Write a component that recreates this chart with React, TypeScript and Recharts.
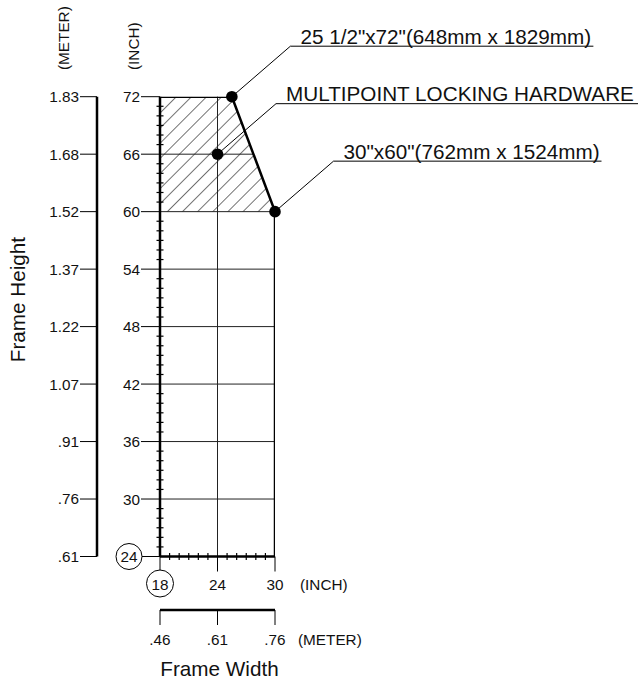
import React from "react";
import {
  ComposedChart,
  XAxis,
  YAxis,
  Line,
  Area,
  ReferenceLine,
  ReferenceDot,
} from "recharts";

const FONT = '"Liberation Sans", Arial, Helvetica, sans-serif';

// frame width (inch) and its metric twin
const widthTicks = [18, 24, 30];
const widthMeters = [".46", ".61", ".76"];

// frame height (inch) and its metric twin
const heightTicks = [24, 30, 36, 42, 48, 54, 60, 66, 72];
const heightMeters = [".61", ".76", ".91", "1.07", "1.22", "1.37", "1.52", "1.68", "1.83"];

// outer outline of the usable range
const outlineW = [18, 25.5, 30, 30];
const outlineH = [72, 72, 60, 24];

// hatched zone (needs multipoint hardware)
const hatchW = [18, 25.5, 30];
const hatchTop = [72, 72, 60];
const hatchBase = 60;

// grid
const gridH = [30, 36, 42, 48, 54, 60];
const gridPartialH = [66];
const gridV = [24];

// called-out points
const markW = [25.5, 24, 30];
const markH = [72, 66, 60];
const markText = [
  '25 1/2"x72"(648mm x 1829mm)',
  "MULTIPOINT LOCKING HARDWARE",
  '30"x60"(762mm x 1524mm)',
];

// layout
const W = 641;
const H = 679;
const TICK_FS = 15.3;
const TITLE_FS = 20.7;
const Y_TICK = 19;
const Y_GAP = 1;
const X_TICK = 15;
const X_GAP = 8;
const MINOR = 3.5;
const DOT_R = 5.8;
const LEADER_DX = 58.5;
const LEADER_DY = -50.5;
const underlineLen = [303, 362, 268];
const HATCH_GAP = 10.7;

const range = (a: number, b: number) => Array.from({ length: b - a + 1 }, (_, i) => a + i);

const outline = outlineW.map((w, i) => ({ w, h: outlineH[i] }));
const hatch = hatchW.map((w, i) => ({ w, top: hatchTop[i] }));

// x where the slanted outline edge crosses height h
const edgeAt = (h: number) => {
  const [w1, w2] = [outlineW[1], outlineW[2]];
  const [h1, h2] = [outlineH[1], outlineH[2]];
  return w1 + ((h1 - h) / (h1 - h2)) * (w2 - w1);
};

const InchYTick = (p: any) => {
  const { x, y, payload } = p;
  const ax = x + Y_TICK + Y_GAP;
  const v = payload.value;
  if (!heightTicks.includes(v)) {
    return <line x1={ax - MINOR} x2={ax + MINOR} y1={y} y2={y} stroke="#000" strokeWidth={1.2} />;
  }
  const circled = v === heightTicks[0];
  const tx = circled ? ax - 31 : ax - Y_TICK - 1;
  return (
    <g>
      <line x1={ax - Y_TICK} x2={ax} y1={y} y2={y} stroke="#000" strokeWidth={1} />
      {circled && <circle cx={tx} cy={y} r={13} fill="#fff" stroke="#000" strokeWidth={1} />}
      <text x={tx} y={y} dy="0.36em" textAnchor={circled ? "middle" : "end"} fontSize={TICK_FS} fill="#111">
        {v}
      </text>
    </g>
  );
};

const InchXTick = (p: any) => {
  const { x, y, payload } = p;
  const ay = y - X_TICK - X_GAP;
  const v = payload.value;
  if (!widthTicks.includes(v)) {
    return <line x1={x} x2={x} y1={ay - MINOR} y2={ay + MINOR} stroke="#000" strokeWidth={1.2} />;
  }
  const circled = v === widthTicks[0];
  const ty = ay + 27.5;
  return (
    <g>
      <line x1={x} x2={x} y1={ay} y2={ay + X_TICK} stroke="#000" strokeWidth={1} />
      {circled && <circle cx={x} cy={ty - 0.5} r={13.5} fill="#fff" stroke="#000" strokeWidth={1} />}
      <text x={x} y={ty} dy="0.36em" textAnchor="middle" fontSize={TICK_FS} fill="#111">
        {v}
      </text>
    </g>
  );
};

const vertText = (x: number, y: number, s: string, fs: number, anchor: string) => (
  <text
    x={x}
    y={y}
    transform={`rotate(-90, ${x}, ${y})`}
    textAnchor={anchor}
    fontSize={fs}
    fill="#111"
  >
    {s}
  </text>
);

const InchYLabel = (p: any) => {
  const { x, y, width } = p.viewBox;
  return vertText(x + width - 21, y - 26.7, "(INCH)", TICK_FS, "start");
};

const MeterYLabel = (p: any) => {
  const { x, y, width, height } = p.viewBox;
  return (
    <g>
      {vertText(x + width - 28.5, y - 26.7, "(METER)", TICK_FS, "start")}
      {vertText(x + 25, y + height / 2 - 27, "Frame Height", TITLE_FS, "middle")}
    </g>
  );
};

const InchXLabel = (p: any) => {
  const { x, y, width } = p.viewBox;
  return (
    <text x={x + width + 25} y={y + 33.5} fontSize={TICK_FS} fill="#111">
      (INCH)
    </text>
  );
};

const MeterXLabel = (p: any) => {
  const { x, y, width } = p.viewBox;
  return (
    <g>
      <text x={x + width + 23} y={y + 35} fontSize={TICK_FS} fill="#111">
        (METER)
      </text>
      <text x={x + width / 2 + 2} y={y + 66} textAnchor="middle" fontSize={TITLE_FS} fill="#111">
        Frame Width
      </text>
    </g>
  );
};

const leaderLabel = (i: number) => (p: any) => {
  const { x, y, width, height } = p.viewBox;
  const cx = x + width / 2;
  const cy = y + height / 2;
  const kx = cx + LEADER_DX;
  const ky = cy + LEADER_DY;
  return (
    <g>
      <polyline
        points={`${cx},${cy} ${kx},${ky} ${kx + underlineLen[i]},${ky}`}
        fill="none"
        stroke="#000"
        strokeWidth={1}
      />
      <text x={kx + 10} y={ky - 2.5} fontSize={TITLE_FS} fill="#111">
        {markText[i]}
      </text>
    </g>
  );
};

export default function App() {
  return (
    <div style={{ position: "absolute", left: 0, top: 0, width: W, height: H, background: "#fff", fontFamily: FONT }}>
      <ComposedChart width={W} height={H} margin={{ top: 96.7, right: 366, bottom: 0, left: 0 }}>
        <defs>
          <pattern
            id="hatch"
            patternUnits="userSpaceOnUse"
            width={HATCH_GAP}
            height={HATCH_GAP}
            patternTransform="rotate(45)"
          >
            <line x1={0} y1={0} x2={0} y2={HATCH_GAP} stroke="#000" strokeWidth={1.1} />
          </pattern>
        </defs>

        <XAxis
          xAxisId="in"
          dataKey="w"
          type="number"
          domain={[18, 30]}
          ticks={range(18, 30)}
          interval={0}
          allowDataOverflow
          height={53.5}
          tickSize={X_TICK}
          tickMargin={X_GAP}
          tickLine={false}
          axisLine={{ stroke: "#000", strokeWidth: 2.5 }}
          tick={InchXTick}
          label={InchXLabel}
        />
        <XAxis
          xAxisId="m"
          dataKey="w"
          type="number"
          domain={[18, 30]}
          ticks={widthTicks}
          interval={0}
          allowDataOverflow
          height={69}
          tickSize={15}
          tickMargin={9}
          tickFormatter={(v: number) => widthMeters[widthTicks.indexOf(v)]}
          tickLine={{ stroke: "#000", strokeWidth: 1 }}
          axisLine={{ stroke: "#000", strokeWidth: 2.5 }}
          tick={{ fill: "#111", fontSize: TICK_FS }}
          label={MeterXLabel}
        />
        <YAxis
          yAxisId="in"
          type="number"
          domain={[24, 72]}
          ticks={range(24, 72)}
          interval={0}
          allowDataOverflow
          width={63}
          tickSize={Y_TICK}
          tickMargin={Y_GAP}
          tickLine={false}
          axisLine={{ stroke: "#000", strokeWidth: 2.5 }}
          tick={InchYTick}
          label={InchYLabel}
        />
        <YAxis
          yAxisId="m"
          type="number"
          domain={[24, 72]}
          ticks={heightTicks}
          interval={0}
          allowDataOverflow
          width={97}
          tickSize={17}
          tickMargin={1}
          tickFormatter={(v: number) => heightMeters[heightTicks.indexOf(v)]}
          tickLine={{ stroke: "#000", strokeWidth: 1 }}
          axisLine={{ stroke: "#000", strokeWidth: 2.5 }}
          tick={{ fill: "#111", fontSize: TICK_FS }}
          label={MeterYLabel}
        />

        <Area
          xAxisId="in"
          yAxisId="in"
          data={hatch}
          dataKey={(d: any) => [hatchBase, d.top]}
          type="linear"
          stroke="none"
          fill="url(#hatch)"
          fillOpacity={1}
          isAnimationActive={false}
        />

        {gridH.map((h) => (
          <ReferenceLine key={h} xAxisId="in" yAxisId="in" y={h} stroke="#222" strokeWidth={1} />
        ))}
        {gridPartialH.map((h) => (
          <ReferenceLine
            key={h}
            xAxisId="in"
            yAxisId="in"
            segment={[{ x: 18, y: h }, { x: edgeAt(h), y: h }]}
            stroke="#222"
            strokeWidth={1}
          />
        ))}
        {gridV.map((w) => (
          <ReferenceLine key={w} xAxisId="in" yAxisId="in" x={w} stroke="#222" strokeWidth={1} />
        ))}

        <Line
          xAxisId="in"
          yAxisId="in"
          data={outline}
          dataKey="h"
          type="linear"
          stroke="#000"
          strokeWidth={2.5}
          dot={false}
          activeDot={false}
          isAnimationActive={false}
        />

        {markW.map((w, i) => (
          <ReferenceDot
            key={i}
            xAxisId="in"
            yAxisId="in"
            x={w}
            y={markH[i]}
            r={DOT_R}
            fill="#000"
            stroke="none"
            ifOverflow="visible"
            label={leaderLabel(i)}
          />
        ))}
      </ComposedChart>
    </div>
  );
}
